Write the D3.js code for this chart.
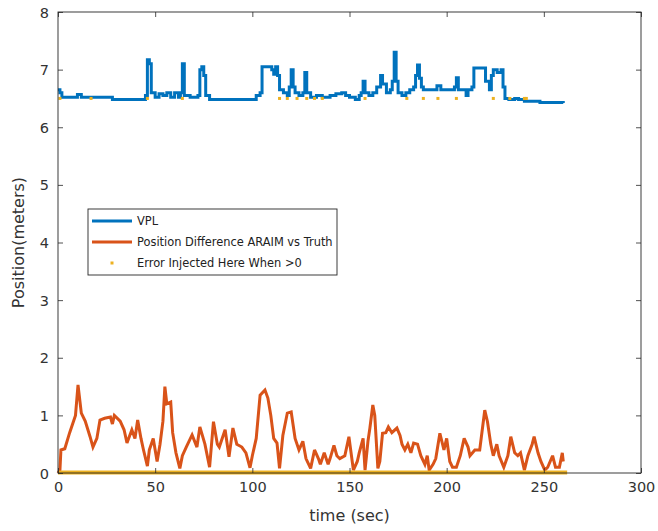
<!DOCTYPE html>
<html><head><meta charset="utf-8">
<script src="https://cdn.jsdelivr.net/npm/d3@7"></script>
<style>body{margin:0;background:#fff}svg{display:block}</style>
</head><body>
<svg id="c" width="658" height="531"></svg>
<script>
// VPL (blue)
const vplT = [0,1,2,8,10,12,25,28,44,45,46,47,48,50,52,54,56,58,60,62,63,64,65,68,72,73,74,75,76,78,100,102,104,105,108,110,111,112,113,114,116,118,119,120,121,122,124,126,127,128,130,133,136,140,143,146,148,150,153,155,156,157,158,160,162,164,166,167,169,171,172,173,174,175,177,179,181,183,184,185,186,187,188,195,197,204,205,206,210,211,213,214,219,220,222,223,224,226,228,229,230,232,235,237,240,244,248,260];
const vplV = [6.65,6.6,6.52,6.52,6.57,6.52,6.52,6.48,6.48,6.55,7.17,7.1,6.6,6.52,6.58,6.55,6.6,6.52,6.6,6.52,6.6,7.1,6.55,6.52,6.55,7.0,7.05,6.9,6.55,6.48,6.48,6.55,6.6,7.05,7.05,7.0,6.92,7.05,6.9,6.65,6.6,6.55,6.7,7.0,6.7,6.6,6.55,6.6,6.95,6.6,6.52,6.55,6.52,6.55,6.58,6.6,6.55,6.52,6.48,6.55,6.6,6.8,6.6,6.55,6.6,6.7,6.9,6.75,6.6,6.65,6.8,7.3,6.8,6.6,6.55,6.6,6.65,6.7,6.9,7.08,6.85,6.7,6.65,6.72,6.65,6.7,6.86,6.65,6.55,6.65,6.7,7.03,7.03,6.8,6.65,6.9,7.0,6.95,7.0,6.7,6.5,6.48,6.5,6.48,6.45,6.45,6.43,6.42];
// Position difference ARAIM vs truth (orange)
const diffT = [0,1,1.5,3.5,6,9,10.3,12,14,16.5,18,20,21.6,24,27,28,29,32,34,35.5,38,39.6,41,42.7,44,46,47,49,51,52.5,54,55,56,58,59,60.7,62.7,64,66,69,71.5,73,75.6,78,80,82,83,86,88,90,92,94.6,96.7,98.8,100,102,104,106.5,108,109.5,111,112.7,114,115.7,118,120,122,124,126,127.6,130,132,134,135,137,139,140,142,143.5,145,147.6,149.7,152,154,155,157,158,159.5,160.5,162,163,164.6,165.6,167,168.7,170,171.8,174.4,176,177,178.5,180,181.6,183,185,186.7,188.8,190,191,193,194.4,196.5,198.6,200,201.6,203,205,207,209,211,212,214.5,217,219.6,221,222.7,224,225.8,227,229.4,231.5,233,235,236.6,238,240,241.8,244,245,247,248.5,250.5,252,254.5,256,258,259.5,260];
const diffV = [0,0.05,0.4,0.42,0.7,1.0,1.53,1.04,0.9,0.63,0.45,0.6,0.92,0.95,0.97,0.85,1.0,0.9,0.75,0.52,0.75,0.6,0.92,0.6,0.4,0.12,0.4,0.6,0.2,0.5,0.9,1.5,1.2,1.23,0.7,0.35,0.08,0.3,0.45,0.66,0.45,0.8,0.5,0.1,0.89,0.5,0.45,0.75,0.28,0.78,0.5,0.45,0.35,0.09,0.3,0.6,1.35,1.44,1.3,1.0,0.6,0.52,0.08,0.65,1.04,1.06,0.6,0.4,0.55,0.25,0.08,0.4,0.25,0.15,0.35,0.15,0.25,0.48,0.3,0.25,0.3,0.63,0.05,0.2,0.35,0.6,0.05,0.55,0.78,1.18,1.0,0.08,0.2,0.69,0.7,0.8,0.7,0.78,0.65,0.5,0.4,0.5,0.35,0.52,0.5,0.3,0.15,0.3,0.05,0.15,0.25,0.69,0.4,0.6,0.2,0.1,0.1,0.3,0.6,0.45,0.3,0.4,0.4,1.09,0.89,0.5,0.3,0.5,0.3,0.1,0.3,0.63,0.35,0.3,0.35,0.05,0.3,0.5,0.63,0.35,0.2,0.05,0.1,0.3,0.1,0.1,0.35,0.2];
// Error injected (yellow): zero span and times where injected (> 0)
const errZeroSpan = [0, 262];
const errInjT = [1,17,46,64,114,118,123,128,132,136,158,179.5,188,195.5,205,224,232.5,240,241];
const errInjV = 6.5;
// axis ticks
const xTicks = [0,50,100,150,200,250,300];
const yTicks = [0,1,2,3,4,5,6,7,8];
const legendLabels = ["VPL","Position Difference ARAIM vs Truth","Error Injected Here When >0"];
const colors = ["#0072BD","#D95319","#EDB120"];

const svg = d3.select("#c");
const L=58,R=641,T=12,B=473;
const x = d3.scaleLinear().domain([0,300]).range([L,R]);
const y = d3.scaleLinear().domain([0,8]).range([B,T]);
const font = "DejaVu Sans, sans-serif";
const axCol = "#262626";
const LW = 3;

const g = svg.append("g");
const stepLine = d3.line().x(d=>x(d[0])).y(d=>y(d[1])).curve(d3.curveStepAfter);
const linLine = d3.line().x(d=>x(d[0])).y(d=>y(d[1]));
g.append("path").datum(vplT.map((t,i)=>[t,vplV[i]])).attr("d",stepLine)
 .attr("fill","none").attr("stroke",colors[0]).attr("stroke-width",LW);
g.append("path").datum(diffT.map((t,i)=>[t,diffV[i]])).attr("d",linLine)
 .attr("fill","none").attr("stroke",colors[1]).attr("stroke-width",LW).attr("stroke-linejoin","miter").attr("stroke-miterlimit",3);
g.append("line").attr("x1",x(errZeroSpan[0])).attr("x2",x(errZeroSpan[1])).attr("y1",y(0)-0.5).attr("y2",y(0)-0.5)
 .attr("stroke",colors[2]).attr("stroke-width",4);
g.selectAll("rect.inj").data(errInjT).enter().append("rect").attr("class","inj")
 .attr("x",d=>x(d)-1.5).attr("y",y(errInjV)-1.5).attr("width",3).attr("height",3).attr("fill",colors[2]);

// axes
const xAx = d3.axisBottom(x).tickValues(xTicks).tickSize(-5).tickPadding(9);
const yAx = d3.axisLeft(y).tickValues(yTicks).tickSize(-5).tickPadding(9);
const gx = svg.append("g").attr("transform",`translate(0,${B})`).call(xAx);
const gy = svg.append("g").attr("transform",`translate(${L},0)`).call(yAx);
svg.append("g").attr("transform",`translate(0,${T})`).call(d3.axisTop(x).tickValues(xTicks).tickSize(-5).tickFormat(""));
svg.append("g").attr("transform",`translate(${R},0)`).call(d3.axisRight(y).tickValues(yTicks).tickSize(-5).tickFormat(""));
svg.selectAll(".domain").remove();
svg.selectAll(".tick line").attr("stroke",axCol).attr("stroke-width",0.8);
[gx,gy].forEach(a=>a.selectAll("text").attr("font-family",font).attr("font-size",14.5).attr("fill","#333"));
gy.selectAll("text").attr("dy","0.35em");
svg.append("rect").attr("x",L).attr("y",T).attr("width",R-L).attr("height",B-T)
 .attr("fill","none").attr("stroke",axCol).attr("stroke-width",0.9);

svg.append("text").attr("x",(L+R)/2).attr("y",521).attr("text-anchor","middle")
 .attr("font-family",font).attr("font-size",16).attr("fill","#333").text("time (sec)");
svg.append("text").attr("transform",`translate(24,${(T+B)/2}) rotate(-90)`).attr("text-anchor","middle")
 .attr("font-family",font).attr("font-size",16).attr("fill","#333").text("Position(meters)");

// legend
const lg = svg.append("g");
lg.append("rect").attr("x",88).attr("y",209).attr("width",249).attr("height",66)
 .attr("fill","#fff").attr("stroke",axCol).attr("stroke-width",0.9);
const ly = [221,242,263];
const texts = [];
legendLabels.forEach((lab,i)=>{
  if(i<2) lg.append("line").attr("x1",92).attr("x2",132).attr("y1",ly[i]).attr("y2",ly[i]).attr("stroke",colors[i]).attr("stroke-width",LW);
  else lg.append("rect").attr("x",110.5).attr("y",ly[i]-1.5).attr("width",3).attr("height",3).attr("fill",colors[i]);
  texts.push(lg.append("text").attr("x",137).attr("y",ly[i]).attr("dy","0.35em").attr("font-family",font)
   .attr("font-size",12.5).attr("fill","#222").text(lab));
});
// fit legend font so the longest entry spans ~196px as in the reference
const w = texts[1].node().getComputedTextLength();
const fs = Math.min(13, 12.5*196/w);
texts.forEach(t=>t.attr("font-size",fs));
</script>
</body></html>
